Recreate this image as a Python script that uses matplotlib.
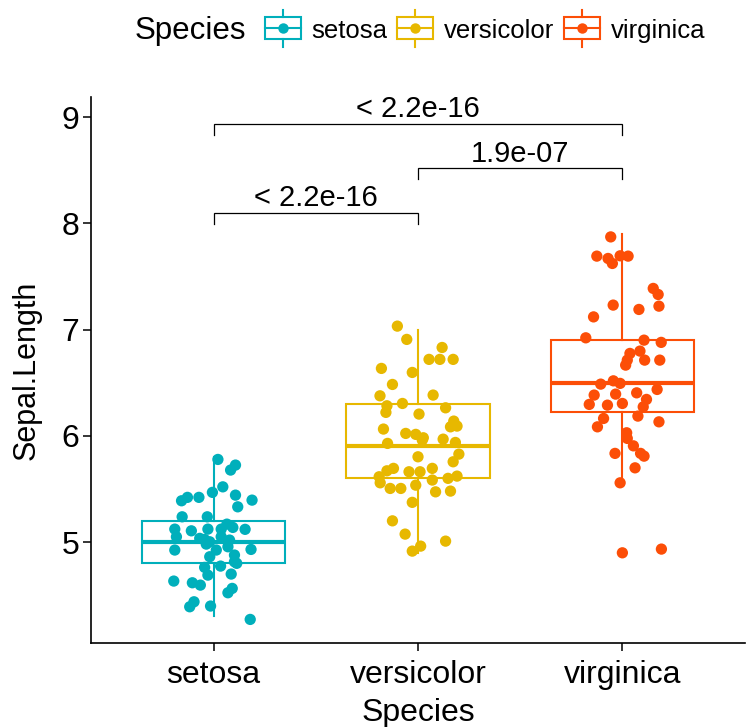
import numpy as np
import matplotlib.pyplot as plt
from matplotlib.patches import Rectangle
from matplotlib.lines import Line2D

plt.rcParams['font.family'] = ['Liberation Sans', 'DejaVu Sans']

species = ["setosa", "versicolor", "virginica"]
colors = ["#00AFBB", "#E7B800", "#FC4E07"]

# box stats: (whislo, q1, med, q3, whishi)
box_stats = [
    (4.3, 4.8, 5.0, 5.2, 5.8),
    (4.9, 5.6, 5.9, 6.3, 7.0),
    (5.6, 6.225, 6.5, 6.9, 7.9),
]

# jittered points: horizontal offset from the group centre, and Sepal.Length
setosa_dx = [0.021, 0.107, 0.083, 0.045, -0.006, 0.107, -0.128, -0.072, -0.157, 0.188,
             0.118, -0.154, -0.031, 0.065, -0.190, -0.109, -0.028, 0.037, 0.094, 0.154,
             -0.182, -0.068, -0.019, 0.037, 0.078, 0.070, -0.190, 0.183, -0.019, 0.102,
             -0.044, 0.034, 0.113, -0.028, 0.086, -0.195, -0.104, -0.065, 0.091, 0.070,
             -0.096, -0.117, -0.015, 0.179, -0.044, 0.013, 0.102, -0.036]
setosa_y = [5.778, 5.725, 5.678, 5.520, 5.468, 5.442, 5.421, 5.421, 5.389, 5.395,
            5.332, 5.238, 5.238, 5.169, 5.122, 5.106, 5.122, 5.122, 5.138, 5.120,
            5.050, 5.035, 5.003, 5.050, 5.019, 4.956, 4.925, 4.931, 4.862, 4.878,
            4.762, 4.774, 4.800, 4.689, 4.699, 4.633, 4.617, 4.595, 4.564, 4.523,
            4.438, 4.391, 4.398, 4.272, 5.025, 4.925, 4.815, 4.981]

versicolor_dx = [-0.101, -0.055, 0.118, 0.054, 0.107, 0.172, -0.179, -0.028, -0.125, -0.186,
                 0.074, -0.152, -0.157, -0.076, 0.005, 0.135, 0.175, 0.159, 0.191, -0.169,
                 -0.060, -0.011, 0.026, 0.123, -0.149, 0.183, 0.021, 0.200, 0.000, 0.172,
                 -0.120, -0.152, -0.044, 0.010, 0.070, -0.190, -0.185, 0.070, 0.147, 0.191,
                 -0.136, -0.084, -0.011, 0.086, 0.159, -0.028, -0.125, -0.063, 0.135, 0.013,
                 -0.028]
versicolor_y = [7.033, 6.908, 6.832, 6.720, 6.720, 6.720, 6.635, 6.597, 6.484, 6.377,
                6.384, 6.283, 6.221, 6.305, 6.205, 6.264, 6.139, 6.085, 6.092, 6.064,
                6.023, 6.014, 5.982, 5.969, 5.929, 5.938, 5.960, 5.828, 5.803, 5.756,
                5.694, 5.671, 5.662, 5.662, 5.694, 5.615, 5.558, 5.584, 5.600, 5.621,
                5.505, 5.505, 5.536, 5.473, 5.480, 5.374, 5.200, 5.075, 5.009, 4.962,
                4.915]

virginica_dx = [-0.057, -0.125, -0.070, -0.049, -0.011, 0.028, 0.151, 0.175, -0.045, 0.081,
                0.179, -0.141, -0.179, 0.106, 0.190, 0.086, 0.037, 0.024, 0.109, 0.183,
                0.016, -0.106, -0.044, -0.011, 0.170, -0.138, -0.033, 0.070, -0.162, -0.073,
                0.000, 0.118, 0.102, -0.092, 0.076, 0.179, -0.122, 0.021, 0.024, 0.054,
                -0.036, 0.089, 0.106, 0.062, -0.011, 0.000, 0.191]
virginica_y = [7.873, 7.692, 7.670, 7.623, 7.695, 7.692, 7.388, 7.331, 7.231, 7.190,
               7.221, 7.120, 6.923, 6.901, 6.880, 6.798, 6.776, 6.713, 6.713, 6.713,
               6.666, 6.487, 6.518, 6.494, 6.437, 6.384, 6.393, 6.405, 6.296, 6.289,
               6.305, 6.343, 6.273, 6.164, 6.186, 6.132, 6.085, 6.029, 5.976, 5.906,
               5.835, 5.835, 5.809, 5.699, 5.558, 4.899, 4.934]

jitter_dx = [setosa_dx, versicolor_dx, virginica_dx]
jitter_y = [setosa_y, versicolor_y, virginica_y]

# comparisons: (group a, group b, bracket height, label)
comparisons = [
    (1, 2, 8.10, "< 2.2e-16"),
    (2, 3, 8.52, "1.9e-07"),
    (1, 3, 8.94, "< 2.2e-16"),
]
tick_drop = 0.105

W, H = 747, 727
fig = plt.figure(figsize=(W / 100, H / 100), dpi=100)
ax = fig.add_axes([91 / W, (H - 643) / H, (745 - 91) / W, (643 - 97) / H])

stats = []
for (lo, q1, med, q3, hi), name in zip(box_stats, species):
    stats.append(dict(whislo=lo, q1=q1, med=med, q3=q3, whishi=hi, fliers=[], label=name))

for i, (st, c) in enumerate(zip(stats, colors)):
    ax.bxp([st], positions=[i + 1], widths=0.7, showfliers=False, showcaps=False,
           patch_artist=True,
           boxprops=dict(facecolor="white", edgecolor=c, linewidth=1.5),
           medianprops=dict(color=c, linewidth=3.0, solid_capstyle="butt"),
           whiskerprops=dict(color=c, linewidth=1.5), manage_ticks=False)

for i, c in enumerate(colors):
    xs = np.array(jitter_dx[i]) + i + 1
    ax.scatter(xs, jitter_y[i], s=66, color=c, edgecolors="none", zorder=3)

for a, b, h, lab in comparisons:
    ax.plot([a, a, b, b], [h - tick_drop, h, h, h - tick_drop], color="black", lw=0.9,
            solid_joinstyle="miter")
    ax.text((a + b) / 2, h + 0.005, lab, ha="center", va="bottom", fontsize=21)

ax.set_xlim(0.4, 3.6)
ax.set_ylim(4.05, 9.19)
ax.set_xticks([1, 2, 3])
ax.set_xticklabels(species)
ax.set_yticks([5, 6, 7, 8, 9])
ax.tick_params(labelsize=23, length=6, width=1.1, colors="black", pad=2.5)
ax.tick_params(axis="x", pad=6)
ax.set_xlabel("Species", fontsize=23, labelpad=6)
ax.set_ylabel("Sepal.Length", fontsize=22, labelpad=14)
for s in ["top", "right"]:
    ax.spines[s].set_visible(False)
for s in ["left", "bottom"]:
    ax.spines[s].set_linewidth(1.2)

# legend drawn at the top, in pixel positions of the figure
def px(x, y):
    return x / W, 1 - y / H

fig.text(*px(135, 31), "Species", fontsize=22.5, va="center", ha="left")
key_left = [265, 397, 564]
text_left = [311, 444, 611]
for kx, tx, c, name in zip(key_left, text_left, colors, species):
    x0, y0 = px(kx, 39)
    x1, y1 = px(kx + 36, 17)
    fig.add_artist(Rectangle((x0, y0), x1 - x0, y1 - y0, transform=fig.transFigure,
                             fill=False, edgecolor=c, linewidth=1.5))
    cx = kx + 18
    fig.add_artist(Line2D([cx / W, cx / W], [1 - 10 / H, 1 - 17 / H],
                          transform=fig.transFigure, color=c, lw=1.5))
    fig.add_artist(Line2D([cx / W, cx / W], [1 - 39 / H, 1 - 47 / H],
                          transform=fig.transFigure, color=c, lw=1.5))
    fig.add_artist(Line2D([kx / W, (kx + 36) / W], [1 - 28 / H, 1 - 28 / H],
                          transform=fig.transFigure, color=c, lw=1.5))
    fig.add_artist(Line2D([cx / W], [1 - 28 / H], transform=fig.transFigure,
                          marker="o", markersize=7.5, color=c, markeredgewidth=0))
    fig.text(*px(tx, 31), name, fontsize=18.5, va="center", ha="left")

fig.savefig("out.png", dpi=100)
